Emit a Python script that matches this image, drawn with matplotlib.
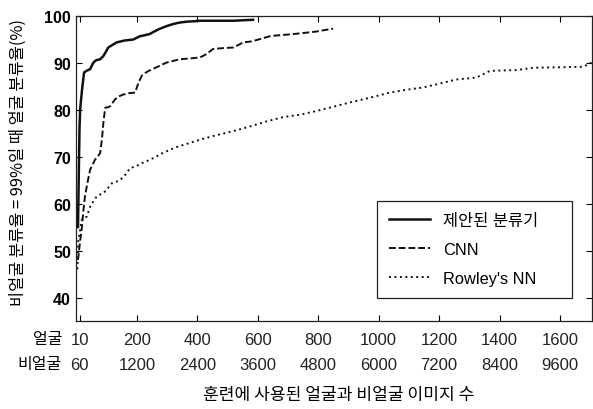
import matplotlib
matplotlib.use('Agg')
import matplotlib.pyplot as plt

plt.rcParams['font.family'] = ['Liberation Sans', 'Noto Sans CJK KR', 'DejaVu Sans']

# --- data ---
prop_x = [5, 8, 10, 12, 18, 25, 35, 45, 56, 65, 78, 89, 100, 105, 115, 133, 160, 188, 200,
          210, 225, 243, 260, 276, 300, 320, 340, 365, 390, 409, 450, 519, 550, 584]
prop_y = [55, 68, 76, 80, 84, 87.9, 88.3, 88.6, 90.0, 90.5, 90.7, 91.4, 92.6, 93.2, 93.6, 94.3,
          94.7, 94.9, 95.3, 95.6, 95.8, 96.1, 96.7, 97.2, 97.8, 98.2, 98.5, 98.7, 98.8, 98.9,
          98.9, 98.9, 99.0, 99.1]

cnn_x = [5, 12, 18, 23, 28, 35, 45, 55, 61, 70, 78, 84, 89, 95, 105, 111, 128, 140, 155, 175,
         194, 205, 216, 228, 238, 265, 298, 342, 380, 409, 430, 452, 490, 519, 552, 580, 607,
         640, 651, 706, 739, 794, 820, 849]
cnn_y = [48, 52, 55, 58.6, 61.5, 64, 67.2, 68.5, 69.3, 70, 70.7, 73.6, 77.2, 80.4, 80.5, 80.7,
         82.2, 82.8, 83.2, 83.5, 83.6, 85.7, 87.2, 87.8, 88.2, 89, 90, 90.7, 90.9, 91.1, 91.8,
         92.9, 93.1, 93.2, 94.3, 94.5, 95, 95.6, 95.7, 96.0, 96.2, 96.6, 96.9, 97.2]

rowley_x = [3, 6, 12, 17, 25, 34, 45, 56, 67, 78, 89, 103, 117, 130, 144, 160, 177, 199, 220,
            243, 287, 330, 370, 409, 460, 519, 574, 630, 684, 740, 794, 850, 904, 970, 1036,
            1090, 1147, 1200, 1257, 1323, 1367, 1400, 1456, 1511, 1600, 1676, 1704]
rowley_y = [46, 52, 54.3, 56.5, 57, 57.2, 59.3, 60.5, 61.5, 61.9, 62.2, 63.2, 64.3, 64.6, 65,
            66, 67.5, 68, 68.7, 69.3, 70.8, 72, 72.8, 73.6, 74.5, 75.4, 76.4, 77.5, 78.4, 78.9,
            79.7, 80.6, 81.5, 82.5, 83.6, 84.2, 84.7, 85.5, 86.4, 86.8, 88.2, 88.3, 88.4, 88.9,
            89.0, 89.1, 90]

face_ticks = [10, 200, 400, 600, 800, 1000, 1200, 1400, 1600]
nonface_labels = ['60', '1200', '2400', '3600', '4800', '6000', '7200', '8400', '9600']
y_ticks = [40, 50, 60, 70, 80, 90, 100]

labels = ['제안된 분류기', 'CNN', "Rowley's NN"]

# --- figure ---
fig = plt.figure(figsize=(5.93, 4.10), dpi=100)
ax = fig.add_axes([0.129, 0.2146, 0.869, 0.745])

ax.plot(prop_x, prop_y, color='#111111', lw=1.8, label=labels[0])
ax.plot(cnn_x, cnn_y, color='#111111', lw=1.4, ls=(0, (3.5, 1.5)), label=labels[1])
ax.plot(rowley_x, rowley_y, color='#111111', lw=1.4, ls=(0, (1, 1.8)), label=labels[2])

ax.set_xlim(0, 1705)
ax.set_ylim(35, 100)

ax.set_xticks(face_ticks)
ax.set_xticklabels([f + '\n' + n for f, n in zip(map(str, face_ticks), nonface_labels)],
                   fontsize=12, linespacing=1.85, color='#222222')
ax.set_yticks(y_ticks)
ax.set_yticklabels([str(v) for v in y_ticks], fontsize=11.5, fontweight='bold')
ax.tick_params(direction='in', top=True, right=True, length=4, width=0.8)
ax.tick_params(axis='x', pad=8)
ax.tick_params(axis='y', pad=4)
for s in ax.spines.values():
    s.set_linewidth(0.9)
    s.set_color('#222222')

# row titles left of the two tick label rows
fig.text(62 / 593, 1 - 340 / 410, '얼굴', ha='right', va='center', fontsize=11.5,
         family=['Noto Sans CJK KR'])
fig.text(62 / 593, 1 - 365 / 410, '비얼굴', ha='right', va='center', fontsize=11.5,
         family=['Noto Sans CJK KR'])

fig.text(339 / 593, 1 - 395 / 410, '훈련에 사용된 얼굴과 비얼굴 이미지 수', ha='center', va='center',
         fontsize=12.3, family=['Noto Sans CJK KR'])
fig.text(18 / 593, 1 - 163 / 410, '비얼굴 분류율 = 99%일 때 얼굴 분류율(%)', rotation=90,
         ha='center', va='center', fontsize=11.8, family=['Noto Sans CJK KR', 'DejaVu Sans'])

leg = ax.legend(loc='lower left', bbox_to_anchor=(0.583, 0.075, 0.378, 0.334), mode='expand',
                borderaxespad=0, handlelength=2.5, handletextpad=0.8, labelspacing=0.85,
                borderpad=0.75, fancybox=False, edgecolor='#222222', framealpha=1,
                prop={'family': ['Liberation Sans', 'Noto Sans CJK KR'], 'size': 11.8})
leg.get_frame().set_linewidth(0.9)

plt.savefig('out.png', dpi=100)
